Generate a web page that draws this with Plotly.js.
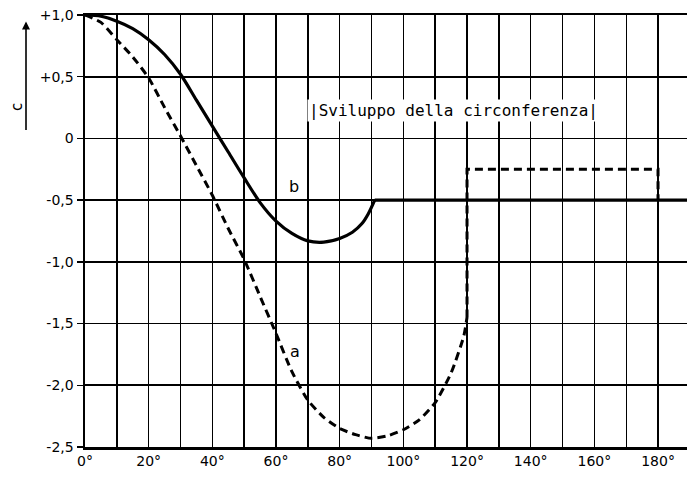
<!DOCTYPE html>
<html>
<head>
<meta charset="utf-8">
<script src="https://cdn.plot.ly/plotly-3.0.1.min.js"></script>
<style>html,body{margin:0;padding:0;background:#fff;}#chart{width:687px;height:478px;}</style>
</head>
<body>
<div id="chart"></div>
<script>
// Curve b (solid): curved part and flat part
const angleB = [0, 5, 10, 15, 20, 25, 30, 35, 40, 45, 50, 55, 60, 65, 70, 75, 80, 84, 87, 89, 91];
const pressB = [1.0, 0.99, 0.95, 0.89, 0.80, 0.68, 0.52, 0.31, 0.10, -0.11, -0.32, -0.52, -0.67, -0.77, -0.83, -0.84, -0.81, -0.76, -0.69, -0.61, -0.5];
const angleBFlat = [91, 190];
const pressBFlat = [-0.5, -0.5];
// Curve a (dashed): curved part and stepped part
const angleA = [0, 5, 10, 15, 20, 25, 30, 35, 40, 45, 50, 55, 60, 65, 70, 75, 80, 85, 90, 95, 100, 105, 110, 115, 119, 120];
const pressA = [1.0, 0.94, 0.8, 0.66, 0.49, 0.25, 0.02, -0.22, -0.46, -0.73, -0.98, -1.28, -1.58, -1.89, -2.12, -2.26, -2.35, -2.4, -2.43, -2.41, -2.36, -2.28, -2.14, -1.9, -1.6, -1.45];
const angleAStep = [120, 120, 180, 180];
const pressAStep = [-1.45, -0.25, -0.25, -0.5];

const xTickVals = [0, 20, 40, 60, 80, 100, 120, 140, 160, 180];
const xTickText = ['0°', '20°', '40°', '60°', '80°', '100°', '120°', '140°', '160°', '180°'];
const yTickVals = [1.0, 0.5, 0, -0.5, -1.0, -1.5, -2.0, -2.5];
const yTickText = ['+1,0', '+0,5', '0', '-0,5', '-1,0', '-1,5', '-2,0', '-2,5'];

const labelB = {x: 65.7, y: -0.39, text: 'b'};
const labelA = {x: 66, y: -1.73, text: 'a'};
const noteText = '|Sviluppo della circonferenza|';

const font = {family: 'DejaVu Sans, Arial, sans-serif', size: 14, color: '#000'};
const dash = '8px,5px';

const traces = [
  {x: angleB, y: pressB, mode: 'lines', line: {color: '#000', width: 3.2, shape: 'spline', smoothing: 0.8}, hoverinfo: 'skip'},
  {x: angleBFlat, y: pressBFlat, mode: 'lines', line: {color: '#000', width: 3.2}, hoverinfo: 'skip'},
  {x: angleA, y: pressA, mode: 'lines', line: {color: '#000', width: 3, dash: dash, shape: 'spline', smoothing: 0.6}, hoverinfo: 'skip'},
  {x: angleAStep, y: pressAStep, mode: 'lines', line: {color: '#000', width: 3, dash: dash}, hoverinfo: 'skip'}
];

const layout = {
  width: 687, height: 478,
  margin: {l: 85, r: 0, t: 15, b: 31},
  paper_bgcolor: '#fff', plot_bgcolor: '#fff',
  showlegend: false,
  font: font,
  xaxis: {
    range: [0, 189.1], tickmode: 'array', tickvals: xTickVals, ticktext: xTickText,
    showgrid: true, gridcolor: '#000', gridwidth: 1.4,
    minor: {dtick: 10, showgrid: true, gridcolor: '#000', gridwidth: 1.4},
    showline: true, linecolor: '#000', linewidth: 2.5, mirror: true,
    zeroline: false, ticks: '', tickfont: font
  },
  yaxis: {
    range: [-2.5, 1.0], tickmode: 'array', tickvals: yTickVals, ticktext: yTickText,
    showgrid: true, gridcolor: '#000', gridwidth: 1.8,
    showline: true, linecolor: '#000', linewidth: 2.5,
    zeroline: false, ticks: 'outside', ticklen: 6, tickwidth: 1.5, tickcolor: '#000', tickfont: font
  },
  annotations: [
    {x: labelB.x, y: labelB.y, text: labelB.text, showarrow: false, font: {family: font.family, size: 16, color: '#000'}},
    {x: labelA.x, y: labelA.y, text: labelA.text, showarrow: false, font: {family: font.family, size: 16, color: '#000'}},
    {x: 115.8, y: 0.23, text: noteText, showarrow: false, bgcolor: '#fff', font: {family: 'DejaVu Sans Mono, monospace', size: 16, color: '#000'}},
    {xref: 'paper', yref: 'paper', x: -0.113, y: 0.787, xanchor: 'center', yanchor: 'middle', text: 'c', textangle: -90, showarrow: false, font: {family: font.family, size: 15, color: '#000'}},
    {xref: 'paper', yref: 'paper', x: -0.098, y: 0.985, text: '', showarrow: true, arrowhead: 2, arrowsize: 1, arrowwidth: 1.6, arrowcolor: '#000', ax: 0, ay: 110}
  ]
};

Plotly.newPlot('chart', traces, layout, {staticPlot: true, displayModeBar: false});
</script>
</body>
</html>
